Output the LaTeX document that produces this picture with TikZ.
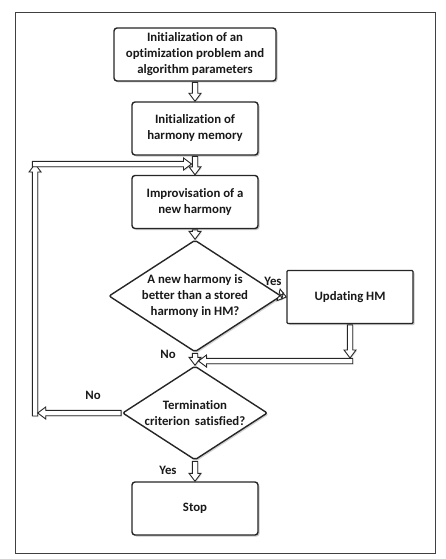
\documentclass[tikz,border=0pt]{standalone}
\usepackage{fontspec}
\setmainfont{Carlito}[Ligatures=NoCommon]
\usetikzlibrary{shapes.geometric,arrows.meta,shadows,calc}
\newcommand\hfarrow[2]{%
  \draw[arrowbody]
    ($(#1)!2.7pt!90:(#2)$) -- ($(#2)!8pt!(#1)!2.7pt!-90:(#1)$) -- ($(#2)!8pt!(#1)!6pt!-90:(#1)$) -- (#2)
    -- ($(#2)!8pt!(#1)!6pt!90:(#1)$) -- ($(#2)!8pt!(#1)!2.7pt!90:(#1)$) -- ($(#1)!2.7pt!-90:(#2)$) -- cycle;}
\begin{document}
\begin{tikzpicture}[x=1pt,y=-1pt,
  every node/.style={font=\bfseries\fontsize{12.8}{16}\selectfont, text=black!90, align=center},
  box/.style={draw=black!85, line width=1.4pt, rounded corners=3pt, fill=white, minimum width=126pt, minimum height=53pt, inner sep=2pt,
    drop shadow={shadow xshift=1.5pt, shadow yshift=-1.5pt, opacity=0.45}},
  dia/.style={diamond, draw=black!85, line width=1.4pt, rounded corners=2pt, fill=white, minimum width=145pt, minimum height=94pt, inner sep=0pt, aspect=1.54,
    drop shadow={shadow xshift=1.5pt, shadow yshift=-1.5pt, opacity=0.35}},
  arrowbody/.style={draw=black!85, line width=0.9pt, fill=white, line join=miter,
    drop shadow={shadow xshift=1pt, shadow yshift=-1pt, opacity=0.25}},
  lbl/.style={font=\bfseries\fontsize{12.8}{16}\selectfont, text=black!90}
]
\useasboundingbox (0,0) rectangle (446,559);
\draw[black!75, line width=1pt] (15,13) rectangle (435,553);

\node[box, minimum width=162pt] (b1) at (195,54.5) {Initialization of an\\optimization problem and\\algorithm parameters};
\node[box] (b2) at (195,128.5) {Initialization of\\harmony memory};
\node[box] (b3) at (195,202) {Improvisation of a\\new harmony};
\node[dia] (d1) at (195,296) {A new harmony is\\better than a stored\\harmony in HM?};
\node[box, rounded corners=1pt] (up) at (350,297) {Updating HM};
\node[dia] (d2) at (195,413) {Termination\\criterion\, satisfied?};
\node[box] (st) at (195,508.5) {Stop};

\coordinate (b1b) at ([yshift=-0.7pt]b1.south);
\coordinate (b2b) at ([yshift=-0.7pt]b2.south);
\coordinate (b3b) at ([yshift=-0.7pt]b3.south);
\coordinate (d1b) at ([yshift=-0.7pt]d1.south);
\coordinate (d1r) at ([xshift=0.7pt]d1.east);
\coordinate (d2b) at ([yshift=-0.7pt]d2.south);
\coordinate (d2l) at ([xshift=-0.7pt]d2.west);
\coordinate (upb) at ([yshift=-0.7pt]up.south);
\coordinate (m1t) at (191.5,164);
\coordinate (m2t) at (198.5,361);
\coordinate (u1) at (350,358);
\coordinate (u1s) at (352.7,361);
\coordinate (c1t) at (37.7,413);
\coordinate (c1) at (35,416);
\coordinate (c2) at (35,164);
\coordinate (c2s) at (32.3,164);

\hfarrow{b1b}{b2.north}
\hfarrow{b2b}{b3.north}
\hfarrow{b3b}{d1.north}
\hfarrow{d1b}{d2.north}
\hfarrow{d1r}{up.west}
\hfarrow{d2b}{st.north}
\hfarrow{upb}{u1}
\hfarrow{u1s}{m2t}
\hfarrow{c1}{c2}
\hfarrow{d2l}{c1t}
\hfarrow{c2s}{m1t}

\node[lbl] at (273,281) {Yes};
\node[lbl] at (168,354) {No};
\node[lbl] at (93,395) {No};
\node[lbl] at (168,470) {Yes};
\end{tikzpicture}
\end{document}
